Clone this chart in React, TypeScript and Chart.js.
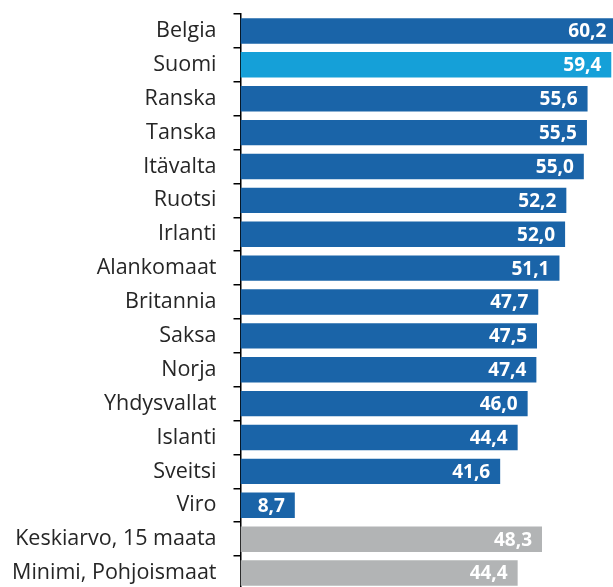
import React, { useEffect, useRef } from 'react';
import { Chart, registerables } from 'chart.js';

Chart.register(...registerables);

const categories: string[] = [
  'Belgia',
  'Suomi',
  'Ranska',
  'Tanska',
  'Itävalta',
  'Ruotsi',
  'Irlanti',
  'Alankomaat',
  'Britannia',
  'Saksa',
  'Norja',
  'Yhdysvallat',
  'Islanti',
  'Sveitsi',
  'Viro',
  'Keskiarvo, 15 maata',
  'Minimi, Pohjoismaat',
];

const values: number[] = [
  60.2, 59.4, 55.6, 55.5, 55.0, 52.2, 52.0, 51.1, 47.7, 47.5, 47.4, 46.0, 44.4, 41.6, 8.7, 48.3, 44.4,
];

const highlighted: string[] = ['Suomi'];
const referenceRows: string[] = ['Keskiarvo, 15 maata', 'Minimi, Pohjoismaat'];

const DARK_BLUE = 'rgb(26,100,168)';
const LIGHT_BLUE = 'rgb(21,160,216)';
const GREY = 'rgb(178,180,181)';

const valueLabels = {
  id: 'valueLabels',
  afterDatasetsDraw(chart: any) {
    const { ctx } = chart;
    const meta = chart.getDatasetMeta(0);
    ctx.save();
    ctx.fillStyle = '#ffffff';
    ctx.font = 'bold 19px "Open Sans"';
    ctx.textAlign = 'right';
    ctx.textBaseline = 'middle';
    meta.data.forEach((el: any, i: number) => {
      const v = values[i];
      const txt = v.toFixed(1).replace('.', ',');
      ctx.fillText(txt, el.x - 10, el.y + 1);
    });
    ctx.restore();
  },
};

export default function App() {
  const ref = useRef<HTMLCanvasElement | null>(null);

  useEffect(() => {
    if (!ref.current) return;
    const colors = categories.map((c) =>
      highlighted.includes(c) ? LIGHT_BLUE : referenceRows.includes(c) ? GREY : DARK_BLUE
    );
    const chart = new Chart(ref.current, {
      type: 'bar',
      data: {
        labels: categories,
        datasets: [
          {
            data: values,
            backgroundColor: colors,
            borderWidth: 0,
            barPercentage: 0.75,
            categoryPercentage: 1,
          },
        ],
      },
      plugins: [valueLabels],
      options: {
        indexAxis: 'y',
        animation: false,
        responsive: false,
        maintainAspectRatio: false,
        layout: { padding: { top: 14, left: 0, right: 0, bottom: 0 } },
        plugins: {
          legend: { display: false },
          tooltip: { enabled: false },
        },
        scales: {
          x: {
            type: 'linear',
            min: 0,
            max: 64,
            display: false,
          },
          y: {
            type: 'category',
            grid: {
              offset: true,
              drawOnChartArea: false,
              drawTicks: true,
              tickLength: 7,
              color: '#000',
              lineWidth: 1.5,
            },
            border: { display: true, color: '#000', width: 1.5 },
            ticks: {
              autoSkip: false,
              padding: 17,
              color: '#262626',
              font: { family: '"Open Sans"', size: 21.5 },
            },
            afterFit: (s: any) => {
              s.width = 240.5;
              s.paddingTop = 0;
              s.paddingBottom = 0;
            },
          },
        },
      } as any,
    });
    return () => chart.destroy();
  }, []);

  return (
    <div
      style={{
        position: 'fixed',
        left: 0,
        top: 0,
        width: 613,
        height: 587,
        overflow: 'hidden',
        background: '#fff',
      }}
    >
      <canvas ref={ref} width={640} height={590} style={{ width: 640, height: 590, display: 'block' }} />
    </div>
  );
}
